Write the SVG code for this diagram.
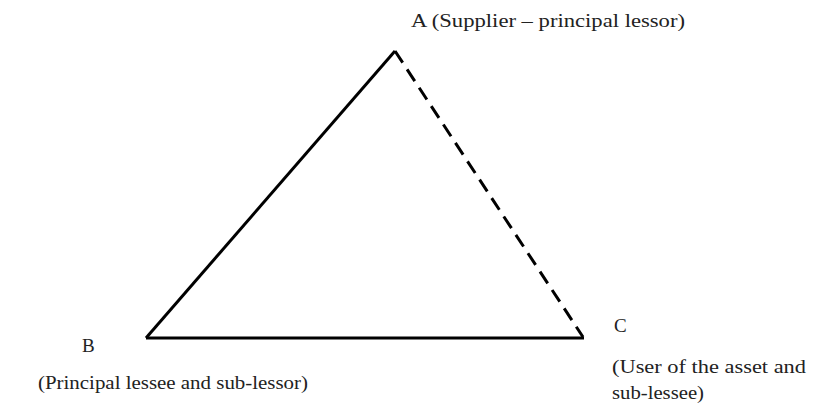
<svg xmlns="http://www.w3.org/2000/svg" width="820" height="414" viewBox="0 0 820 414">
<style>
text{font-family:"Liberation Serif","DejaVu Serif",serif;font-size:19px;fill:#222}
.s{stroke:#000;stroke-width:3;fill:none}
</style>
<rect width="820" height="414" fill="#fff"/>
<g id="connectors">
<polyline class="s" points="146,338 395,51"/>
<line class="s" x1="146" y1="338" x2="584" y2="338"/>
<line class="s" x1="395" y1="51" x2="583" y2="337" stroke-dasharray="14,8"/>
</g>
<g id="A"><text x="411" y="27" textLength="274" lengthAdjust="spacingAndGlyphs">A (Supplier – principal lessor)</text></g>
<g id="B"><text x="82" y="352">B</text><text x="38" y="389" textLength="270" lengthAdjust="spacingAndGlyphs">(Principal lessee and sub-lessor)</text></g>
<g id="C"><text x="614" y="332">C</text><text x="612" y="373" textLength="194" lengthAdjust="spacingAndGlyphs">(User of the asset and</text><text x="612" y="399" textLength="92" lengthAdjust="spacingAndGlyphs">sub-lessee)</text></g>
</svg>
